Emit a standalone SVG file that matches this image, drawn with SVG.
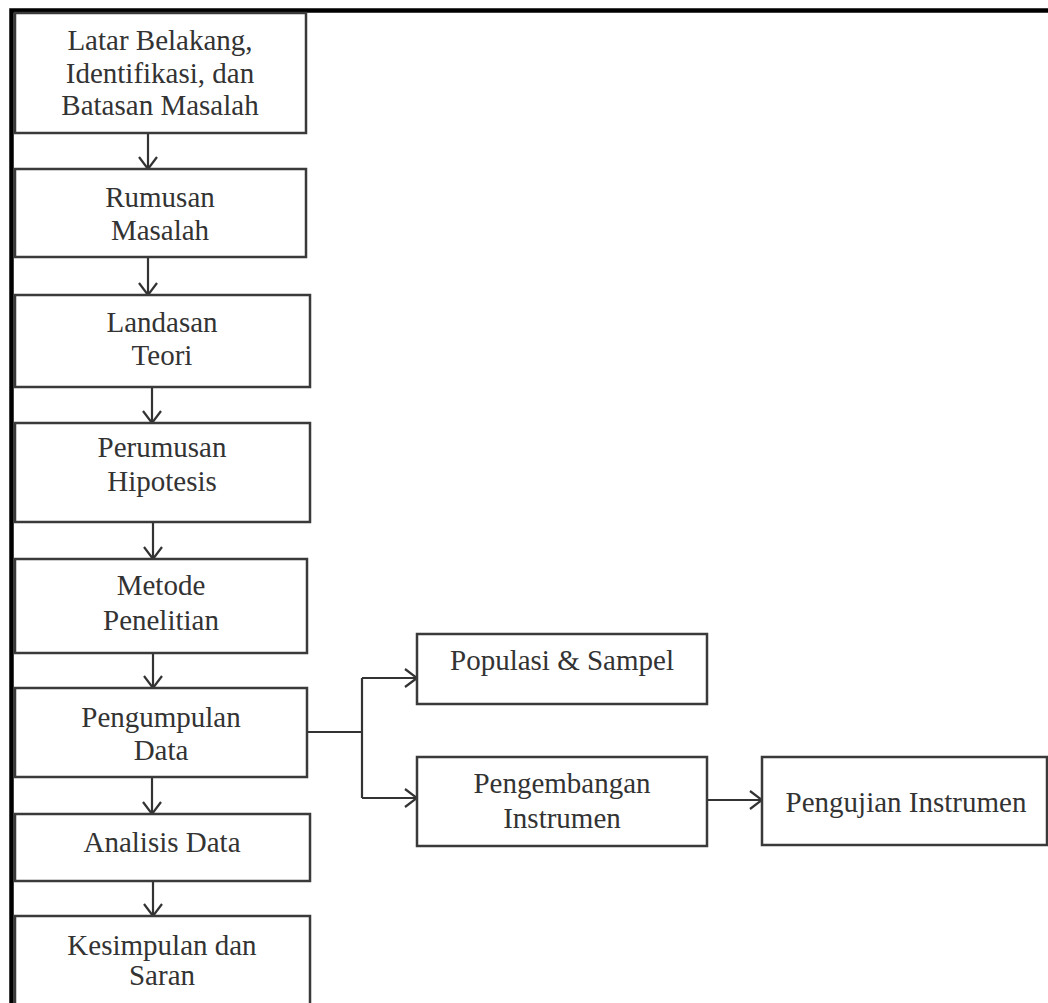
<svg xmlns="http://www.w3.org/2000/svg" width="1048" height="1003" viewBox="0 0 1048 1003">
<style>
.box{fill:#fff;stroke:#3a3a3a;stroke-width:2.5}
.t{font-family:"Liberation Serif","Times New Roman",serif;font-size:29px;fill:#333;text-anchor:middle}
.c{fill:none;stroke:#333;stroke-width:2.2;marker-end:url(#ah)}
.l{fill:none;stroke:#333;stroke-width:2.2}
.frame{fill:none;stroke:#000;stroke-width:4.5}
</style>
<defs>
<marker id="ah" viewBox="0 0 14 20" refX="13" refY="10" markerWidth="14" markerHeight="20" markerUnits="userSpaceOnUse" orient="auto">
<path d="M1,1 L13,10 L1,19" fill="none" stroke="#333" stroke-width="2.2"/>
</marker>
</defs>
<rect width="1048" height="1003" fill="#fff"/>
<path class="frame" d="M11.5,1003 V10.5 H1048"/>
<g id="connectors">
<path class="c" d="M148,133 V169"/>
<path class="c" d="M148,257 V295"/>
<path class="c" d="M152,387 V423"/>
<path class="c" d="M153,522 V559"/>
<path class="c" d="M153,653 V688"/>
<path class="c" d="M152,777 V814"/>
<path class="c" d="M153,881 V916"/>
<path class="l" d="M307,732 H362 M362,678 V798"/>
<path class="c" d="M362,678 H417"/>
<path class="c" d="M362,798 H417"/>
<path class="c" d="M707,800 H762"/>
</g>
<g id="n1"><rect class="box" x="15" y="13" width="291" height="120"/>
<text class="t" x="160" y="50">Latar Belakang,</text>
<text class="t" x="160" y="83">Identifikasi, dan</text>
<text class="t" x="160" y="115">Batasan Masalah</text></g>
<g id="n2"><rect class="box" x="15" y="169" width="291" height="88"/>
<text class="t" x="160" y="207">Rumusan</text>
<text class="t" x="160" y="240">Masalah</text></g>
<g id="n3"><rect class="box" x="15" y="295" width="295" height="92"/>
<text class="t" x="162" y="332">Landasan</text>
<text class="t" x="162" y="365">Teori</text></g>
<g id="n4"><rect class="box" x="15" y="423" width="295" height="99"/>
<text class="t" x="162" y="457">Perumusan</text>
<text class="t" x="162" y="491">Hipotesis</text></g>
<g id="n5"><rect class="box" x="15" y="559" width="292" height="94"/>
<text class="t" x="161" y="595">Metode</text>
<text class="t" x="161" y="630">Penelitian</text></g>
<g id="n6"><rect class="box" x="15" y="688" width="292" height="89"/>
<text class="t" x="161" y="727">Pengumpulan</text>
<text class="t" x="161" y="760">Data</text></g>
<g id="n7"><rect class="box" x="15" y="814" width="295" height="67"/>
<text class="t" x="162" y="852">Analisis Data</text></g>
<g id="n8"><rect class="box" x="15" y="916" width="295" height="100"/>
<text class="t" x="162" y="955">Kesimpulan dan</text>
<text class="t" x="162" y="985">Saran</text></g>
<g id="n9"><rect class="box" x="417" y="634" width="290" height="70"/>
<text class="t" x="562" y="670">Populasi &amp; Sampel</text></g>
<g id="n10"><rect class="box" x="417" y="757" width="290" height="89"/>
<text class="t" x="562" y="793">Pengembangan</text>
<text class="t" x="562" y="828">Instrumen</text></g>
<g id="n11"><rect class="box" x="762" y="757" width="285" height="88"/>
<text class="t" x="906" y="812">Pengujian Instrumen</text></g>
</svg>
